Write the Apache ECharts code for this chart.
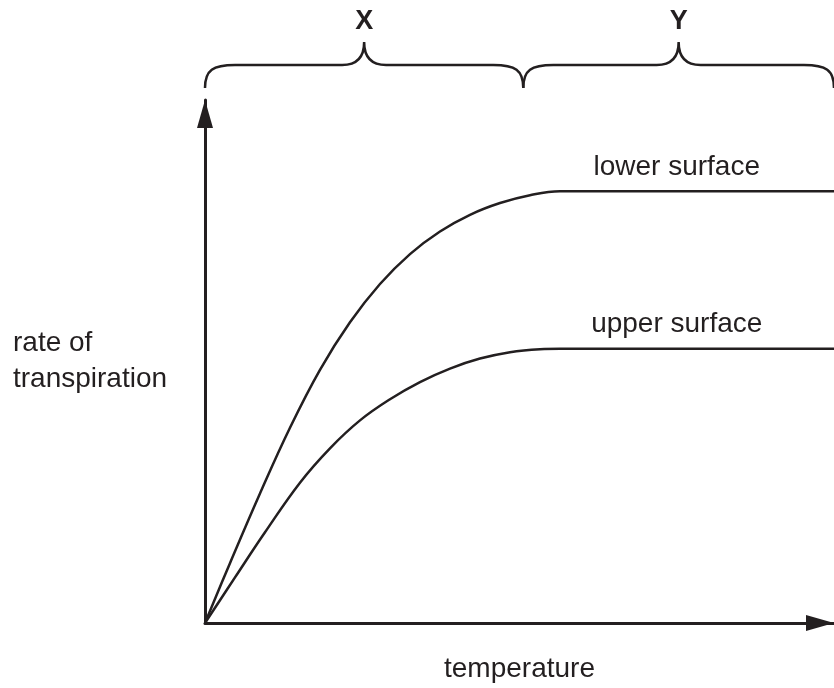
<!DOCTYPE html>
<html>
<head>
<meta charset="utf-8">
<script src="https://cdn.jsdelivr.net/npm/echarts@6/dist/echarts.min.js"></script>
<style>
  html, body { margin: 0; padding: 0; background: #fff; }
  #chart { width: 834px; height: 688px; }
</style>
</head>
<body>
<div id="chart"></div>
<script>
// temperature (x) and rate of transpiration (y), arbitrary units
const lowerX = [0, 3.97, 8.74, 13.51, 18.28, 23.05, 27.82, 32.59, 37.36, 42.13, 46.90, 51.67, 56.44, 62, 75, 100];
const lowerY = [0, 11.44, 24.77, 37.34, 48.41, 57.50, 64.82, 70.54, 74.86, 78.05, 80.30, 81.80, 82.55, 82.55, 82.55, 82.55];
const upperX = [0, 4.77, 9.54, 15.10, 19.87, 24.64, 29.41, 34.18, 38.95, 43.72, 48.49, 53.26, 56.44, 62, 75, 100];
const upperY = [0, 8.72, 17.35, 26.83, 33.40, 38.74, 42.78, 46.06, 48.65, 50.56, 51.78, 52.35, 52.44, 52.44, 52.44, 52.44];

// temperature ranges marked by braces along the top
const braceSpans = [[0, 50.6], [50.6, 100]];
const braceLabels = ['X', 'Y'];

const ink = '#231f20';
const font = 'Liberation Sans, Arial, Helvetica, sans-serif';

const pair = (xs, ys) => xs.map((x, i) => [x, ys[i]]);

const chart = echarts.init(document.getElementById('chart'));

function curve(name, xs, ys) {
    return {
        type: 'line',
        name: name,
        data: pair(xs, ys),
        smooth: 0.4,
        showSymbol: false,
        silent: true,
        lineStyle: { color: ink, width: 2.5 },
        markPoint: {
            symbol: 'circle',
            symbolSize: 2,
            itemStyle: { color: 'rgba(0,0,0,0)' },
            data: [{ coord: [75, ys[ys.length - 1]] }],
            label: {
                show: true,
                position: 'top',
                distance: 9,
                formatter: name,
                color: ink,
                fontSize: 28,
                fontFamily: font
            }
        }
    };
}

const axisLine = {
    lineStyle: { color: ink, width: 3 },
    symbol: ['none', 'triangle'],
    symbolSize: [16, 28],
    symbolOffset: [0, -14]
};

const option = {
    animation: false,
    grid: { left: 205, right: 0, top: 100, bottom: 55 },
    xAxis: {
        type: 'value',
        min: 0,
        max: 100,
        name: 'temperature',
        nameLocation: 'middle',
        nameGap: 32,
        nameTextStyle: { color: ink, fontSize: 28, fontFamily: font },
        axisLine: axisLine,
        axisTick: { show: false },
        axisLabel: { show: false },
        splitLine: { show: false }
    },
    yAxis: {
        type: 'value',
        min: 0,
        max: 100,
        name: 'rate of\ntranspiration',
        nameLocation: 'middle',
        nameRotate: 0,
        nameGap: 192,
        nameTextStyle: {
            color: ink, fontSize: 28, fontFamily: font,
            align: 'left', lineHeight: 36, padding: [0, 0, 16, 0]
        },
        axisLine: axisLine,
        axisTick: { show: false },
        axisLabel: { show: false },
        splitLine: { show: false }
    },
    series: [
        curve('lower surface', lowerX, lowerY),
        curve('upper surface', upperX, upperY),
        {
            type: 'custom',
            silent: true,
            clip: false,
            data: braceSpans,
            renderItem: function (params, api) {
                const a = api.coord([api.value(0), 100]);
                const b = api.coord([api.value(1), 100]);
                const x0 = a[0], x1 = b[0], xc = (x0 + x1) / 2;
                const top = a[1];
                const tip = top - 12, line = top - 35, cusp = top - 58;
                const path =
                    'M' + x0 + ' ' + tip +
                    ' C' + x0 + ' ' + (line + 5) + ' ' + (x0 + 8) + ' ' + line + ' ' + (x0 + 30) + ' ' + line +
                    ' L' + (xc - 22) + ' ' + line +
                    ' C' + (xc - 8) + ' ' + line + ' ' + xc + ' ' + (line - 7) + ' ' + xc + ' ' + cusp +
                    ' C' + xc + ' ' + (line - 7) + ' ' + (xc + 8) + ' ' + line + ' ' + (xc + 22) + ' ' + line +
                    ' L' + (x1 - 30) + ' ' + line +
                    ' C' + (x1 - 8) + ' ' + line + ' ' + x1 + ' ' + (line + 5) + ' ' + x1 + ' ' + tip;
                return {
                    type: 'group',
                    children: [
                        {
                            type: 'path',
                            shape: { pathData: path },
                            style: { fill: null, stroke: ink, lineWidth: 2.5 }
                        },
                        {
                            type: 'text',
                            x: xc,
                            y: top - 78,
                            style: {
                                text: braceLabels[params.dataIndex],
                                fill: ink,
                                fontSize: 27,
                                fontWeight: 'bold',
                                fontFamily: font,
                                align: 'center',
                                verticalAlign: 'middle'
                            }
                        }
                    ]
                };
            }
        }
    ]
};

chart.setOption(option);
</script>
</body>
</html>
